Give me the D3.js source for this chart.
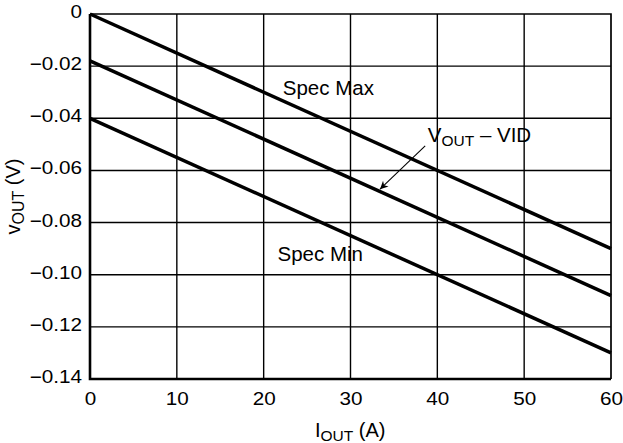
<!DOCTYPE html>
<html>
<head>
<meta charset="utf-8">
<script src="https://cdnjs.cloudflare.com/ajax/libs/d3/7.8.5/d3.min.js"></script>
<style>
  body { margin: 0; background: #fff; }
  svg text { font-family: "Liberation Sans", Arial, sans-serif; fill: #000; }
</style>
</head>
<body>
<div id="chart"></div>
<script>
// data
var xTicks = [0, 10, 20, 30, 40, 50, 60];
var yTicks = [0, -0.02, -0.04, -0.06, -0.08, -0.10, -0.12, -0.14];
var yTickLabels = ['0', '\u22120.02', '\u22120.04', '\u22120.06', '\u22120.08', '\u22120.10', '\u22120.12', '\u22120.14'];
var iout = [0, 60];
var specMax = [0, -0.090];
var nominal = [-0.018, -0.108];
var specMin = [-0.040, -0.130];

var width = 623, height = 443,
    marginLeft = 90, marginRight = 12, marginTop = 14, marginBottom = 64,
    fontFam = '"Liberation Sans", Arial, sans-serif';

var svg = d3.select('#chart')
  .append('svg')
  .attr('width', width)
  .attr('height', height);

var x = d3.scaleLinear().domain([0, 60]).range([marginLeft, width - marginRight]);
var y = d3.scaleLinear().domain([-0.14, 0]).range([height - marginBottom, marginTop]);

// grid
svg.append('g')
  .selectAll('line')
  .data(xTicks.slice(1, -1)).enter()
  .append('line')
  .attr('x1', function (d) { return x(d); })
  .attr('x2', function (d) { return x(d); })
  .attr('y1', y(0))
  .attr('y2', y(-0.14))
  .attr('stroke', '#000')
  .attr('stroke-width', 1.4);

svg.append('g')
  .selectAll('line')
  .data(yTicks.slice(1, -1)).enter()
  .append('line')
  .attr('x1', x(0))
  .attr('x2', x(60))
  .attr('y1', function (d) { return y(d); })
  .attr('y2', function (d) { return y(d); })
  .attr('stroke', '#000')
  .attr('stroke-width', 1.4);

// frame: top/right thin, left/bottom heavy
svg.append('path')
  .attr('d', 'M' + x(0) + ',' + y(0) + 'H' + x(60) + 'V' + y(-0.14))
  .attr('fill', 'none')
  .attr('stroke', '#000')
  .attr('stroke-width', 1.7);

svg.append('path')
  .attr('d', 'M' + x(0) + ',' + y(0) + 'V' + y(-0.14) + 'H' + x(60))
  .attr('fill', 'none')
  .attr('stroke', '#000')
  .attr('stroke-width', 2.6);

// axes (labels only); the reference digits are a bit wide, so stretch them
var xAxis = svg.append('g')
  .attr('transform', 'translate(0,' + y(-0.14) + ')')
  .call(d3.axisBottom(x).tickValues(xTicks).tickSize(0).tickFormat(d3.format('d')));
xAxis.select('.domain').remove();
xAxis.selectAll('text')
  .attr('y', 0).attr('dy', null)
  .attr('font-size', 18).attr('font-family', fontFam)
  .attr('transform', 'translate(0,26) scale(1.15,1)');

var yAxis = svg.append('g')
  .attr('transform', 'translate(' + x(0) + ',0)')
  .call(d3.axisLeft(y).tickValues(yTicks).tickSize(0)
    .tickFormat(function (d, i) { return yTickLabels[i]; }));
yAxis.select('.domain').remove();
yAxis.selectAll('text')
  .attr('x', 0).attr('dy', null)
  .attr('font-size', 18).attr('font-family', fontFam)
  .attr('transform', 'translate(-8,3.5) scale(1.15,1)');

// curves
var line = d3.line()
  .x(function (d) { return x(d[0]); })
  .y(function (d) { return y(d[1]); });

[specMax, nominal, specMin].forEach(function (s) {
  svg.append('path')
    .datum(iout.map(function (v, i) { return [v, s[i]]; }))
    .attr('d', line)
    .attr('fill', 'none')
    .attr('stroke', '#000')
    .attr('stroke-width', 3.5);
});

// annotations
svg.append('text')
  .attr('x', x(22.2)).attr('y', y(-0.031))
  .attr('font-size', 20.5)
  .text('Spec Max');

svg.append('text')
  .attr('x', x(21.6)).attr('y', y(-0.0947))
  .attr('font-size', 20.5)
  .text('Spec Min');

var vid = svg.append('text')
  .attr('x', x(38.9)).attr('y', y(-0.049))
  .attr('font-size', 20.5);
vid.append('tspan').text('V');
vid.append('tspan').attr('font-size', 15.5).attr('dy', 4).text('OUT');
vid.append('tspan').attr('dy', -4).text(' \u2013 VID');

svg.append('defs').append('marker')
  .attr('id', 'arrow')
  .attr('viewBox', '0 0 10 10')
  .attr('refX', 10).attr('refY', 5)
  .attr('markerWidth', 12).attr('markerHeight', 8)
  .attr('markerUnits', 'userSpaceOnUse')
  .attr('orient', 'auto')
  .append('path')
  .attr('d', 'M0,0 L10,5 L0,10 L3,5 Z')
  .attr('fill', '#000');

svg.append('line')
  .attr('x1', x(38.6)).attr('y1', y(-0.0506))
  .attr('x2', x(33.4)).attr('y2', y(-0.0672))
  .attr('stroke', '#000')
  .attr('stroke-width', 1.1)
  .attr('marker-end', 'url(#arrow)');

// axis titles
var xt = svg.append('text')
  .attr('x', 315).attr('y', 437)
  .attr('font-size', 20);
xt.append('tspan').text('I');
xt.append('tspan').attr('font-size', 15.5).attr('dy', 4).text('OUT');
xt.append('tspan').attr('dy', -4).text(' (A)');

var yt = svg.append('text')
  .attr('transform', 'translate(19.5,' + y(-0.07) + ') rotate(-90)')
  .attr('text-anchor', 'middle')
  .attr('font-size', 20);
yt.append('tspan').text('v');
yt.append('tspan').attr('font-size', 16).attr('dy', 4).text('OUT');
yt.append('tspan').attr('dy', -4).text(' (V)');
</script>
</body>
</html>
